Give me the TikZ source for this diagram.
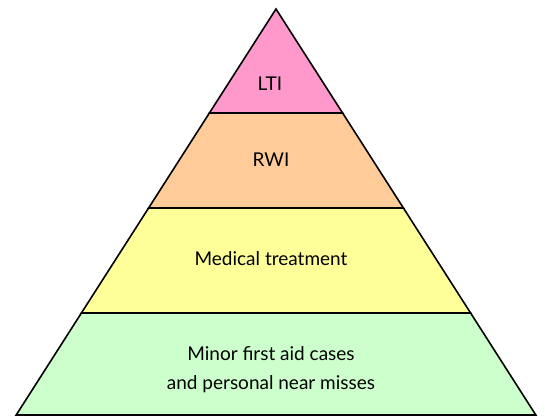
\documentclass[tikz,border=0pt]{standalone}
\usepackage{fontspec}
\setmainfont{Lato}
\usetikzlibrary{positioning}
\definecolor{ltipink}{HTML}{FF99CC}
\definecolor{rwiorange}{HTML}{FFCC99}
\definecolor{medyellow}{HTML}{FFFF99}
\definecolor{minorgreen}{HTML}{CCFFCC}
\begin{document}
\begin{tikzpicture}[x=1pt,y=-1pt]
  \tikzstyle{layer}=[draw=black,line width=1.6pt,line join=miter]
  \tikzstyle{lbl}=[align=center,font=\fontsize{19}{29}\selectfont,inner sep=0pt]
  \useasboundingbox (0,0) rectangle (545,417);
  % corners of the pyramid and the layer borders
  \coordinate (apex) at (276,9);
  \coordinate (l1) at (209.4,113); \coordinate (r1) at (342.6,113);
  \coordinate (l2) at (148.6,208); \coordinate (r2) at (403.4,208);
  \coordinate (l3) at (81.4,313);  \coordinate (r3) at (470.6,313);
  \coordinate (l4) at (16.2,415);  \coordinate (r4) at (535.8,415);
  \draw[layer,fill=minorgreen] (l3) -- (r3) -- (r4) -- (l4) -- cycle;
  \draw[layer,fill=medyellow] (l2) -- (r2) -- (r3) -- (l3) -- cycle;
  \draw[layer,fill=rwiorange] (l1) -- (r1) -- (r2) -- (l2) -- cycle;
  \draw[layer,fill=ltipink] (apex) -- (r1) -- (l1) -- cycle;
  \node[lbl] (lti) at (270,84) {LTI};
  \node[lbl] (rwi) at (271,160) {RWI};
  \node[lbl] (med) at (271,259) {Medical treatment};
  \node[lbl] (minor) at (271,370) {Minor first aid cases\\and personal near misses};
\end{tikzpicture}
\end{document}
